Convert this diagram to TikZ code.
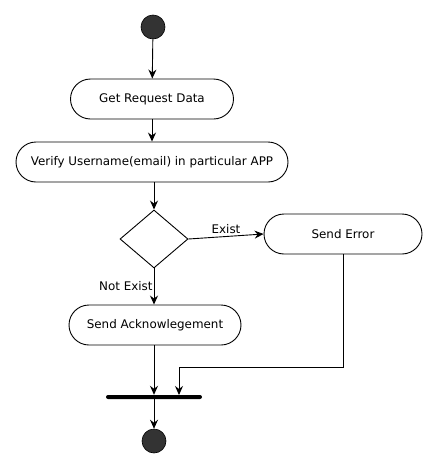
\documentclass[tikz,border=0pt]{standalone}
\usepackage{fontspec}
\setmainfont{DejaVu Sans}
\usetikzlibrary{arrows.meta,shapes.geometric}
\begin{document}
\begin{tikzpicture}[x=1pt,y=-1pt,
  every node/.style={font=\fontsize{11.9}{14}\selectfont},
  act/.style={draw,rectangle,rounded corners=20pt,line width=0.9pt,minimum height=40pt,inner sep=0pt,align=center},
  dot/.style={circle,fill=black!80,draw=black,line width=0.6pt,minimum size=24pt,inner sep=0pt},
  arr/.style={-{Stealth[length=9pt,width=8pt,inset=3pt]},line width=0.9pt},
  lbl/.style={inner sep=1pt}]
\useasboundingbox (0,0) rectangle (438,469);
\node[dot] (start) at (153,27) {};
\node[act,minimum width=163pt] (get) at (152,99) {Get Request Data};
\node[act,minimum width=272pt] (verify) at (152,162) {Verify Username(email) in particular APP};
\node[draw,diamond,line width=0.9pt,minimum width=68pt,minimum height=58pt,inner sep=0pt,aspect=1.17] (dec) at (154,239) {};
\node[act,minimum width=158pt] (err) at (343,234) {Send Error};
\node[act,minimum width=172pt] (ack) at (155,325) {Send Acknowlegement};
\node[fill=black,minimum width=96pt,minimum height=4pt,inner sep=0pt,rounded corners=2pt] (bar) at (154,397) {};
\node[dot] (end) at (154,441) {};
\coordinate (j) at (179,395);
\draw[arr] (start) -- (get);
\draw[arr] (get) -- (verify);
\draw[arr] (verify.south -| dec.north) -- (dec.north);
\draw[arr] (dec.east) -- node[lbl,above,pos=0.5,yshift=1pt] {Exist} (err.west);
\draw[arr] (dec.south) -- node[lbl,left,pos=0.5] {Not Exist} (ack.north -| dec.south);
\draw[arr] (ack.south -| dec.south) -- (bar.north -| dec.south);
\draw[arr] (err.south) -- (343,367) -- (179,367) -- (j);
\draw[arr] (bar.south -| dec.south) -- (end);
\end{tikzpicture}
\end{document}
